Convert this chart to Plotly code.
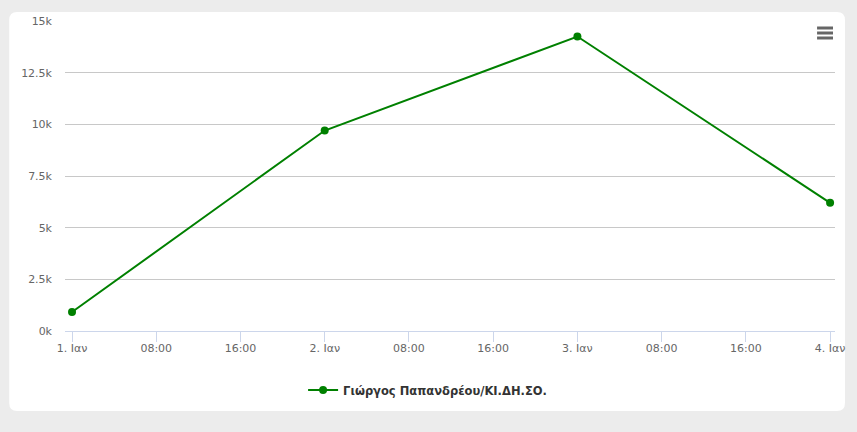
import plotly.graph_objects as go

# Data
dates = ["2024-01-01", "2024-01-02", "2024-01-03", "2024-01-04"]
values = [920, 9700, 14250, 6200]
series_name = "Γιώργος Παπανδρέου/ΚΙ.ΔΗ.ΣΟ."

x_tickvals = ["2024-01-01 00:00", "2024-01-01 08:00", "2024-01-01 16:00",
              "2024-01-02 00:00", "2024-01-02 08:00", "2024-01-02 16:00",
              "2024-01-03 00:00", "2024-01-03 08:00", "2024-01-03 16:00",
              "2024-01-04 00:00"]
x_ticktext = ["1. Ιαν", "08:00", "16:00", "2. Ιαν", "08:00", "16:00",
              "3. Ιαν", "08:00", "16:00", "4. Ιαν"]
y_tickvals = [0, 2500, 5000, 7500, 10000, 12500, 15000]
y_ticktext = ["0k", "2.5k", "5k", "7.5k", "10k", "12.5k", "15k"]

W, H = 857, 432
L, R, T, B = 65, 838, 21, 331  # plot area in px


def px_x(p):
    return (p - L) / (R - L)


def px_y(p):
    return (B - p) / (B - T)


fig = go.Figure()
fig.add_trace(go.Scatter(
    x=dates, y=values, name=series_name, mode="lines+markers",
    line=dict(color="#008000", width=2),
    marker=dict(color="#008000", size=8),
    showlegend=True,
))

# rounded white card
x0, y0, x1, y1, r = 9, 12, 848, 411, 8
path = (f"M {px_x(x0 + r)} {px_y(y0)} L {px_x(x1 - r)} {px_y(y0)} "
        f"Q {px_x(x1)} {px_y(y0)} {px_x(x1)} {px_y(y0 + r)} "
        f"L {px_x(x1)} {px_y(y1 - r)} Q {px_x(x1)} {px_y(y1)} {px_x(x1 - r)} {px_y(y1)} "
        f"L {px_x(x0 + r)} {px_y(y1)} Q {px_x(x0)} {px_y(y1)} {px_x(x0)} {px_y(y1 - r)} "
        f"L {px_x(x0)} {px_y(y0 + r)} Q {px_x(x0)} {px_y(y0)} {px_x(x0 + r)} {px_y(y0)} Z")
shapes = [dict(type="path", path=path, xref="paper", yref="paper",
               fillcolor="white", line=dict(width=0), layer="below")]
# hamburger menu icon
for yy in (28, 33, 38):
    shapes.append(dict(type="line", xref="paper", yref="paper",
                       x0=px_x(820), x1=px_x(836), y0=px_y(yy), y1=px_y(yy),
                       line=dict(color="#666666", width=3)))

fig.update_layout(
    width=W, height=H,
    margin=dict(l=L, r=W - R, t=T, b=H - B),
    paper_bgcolor="#ececec",
    plot_bgcolor="rgba(0,0,0,0)",
    shapes=shapes,
    font=dict(family="DejaVu Sans", size=11, color="#666666"),
    xaxis=dict(
        type="date",
        range=["2023-12-31 23:20", "2024-01-04 00:28"],
        tickvals=x_tickvals, ticktext=x_ticktext,
        showgrid=False, showline=True, linecolor="#ccd6eb", linewidth=1,
        ticks="outside", ticklen=10, tickcolor="#ccd6eb",
        tickfont=dict(size=11, color="#666666"),
        ticklabelstandoff=-3,
        zeroline=False, fixedrange=True,
    ),
    yaxis=dict(
        range=[0, 15000],
        tickvals=y_tickvals, ticktext=y_ticktext,
        showgrid=True, gridcolor="#c8c8c8", gridwidth=1,
        zeroline=False, showline=False,
        ticks="", ticklabelstandoff=12,
        tickfont=dict(size=11, color="#666666"),
        fixedrange=True,
    ),
    legend=dict(
        orientation="h", x=px_x(429), xanchor="center", y=px_y(390), yanchor="middle",
        font=dict(family="DejaVu Sans", size=11.5, color="#333333", weight="bold"),
        bgcolor="rgba(0,0,0,0)", itemwidth=30,
    ),
)

fig.write_html("out.html", config={"displayModeBar": False},
               post_script="document.body.style.margin='0';")
